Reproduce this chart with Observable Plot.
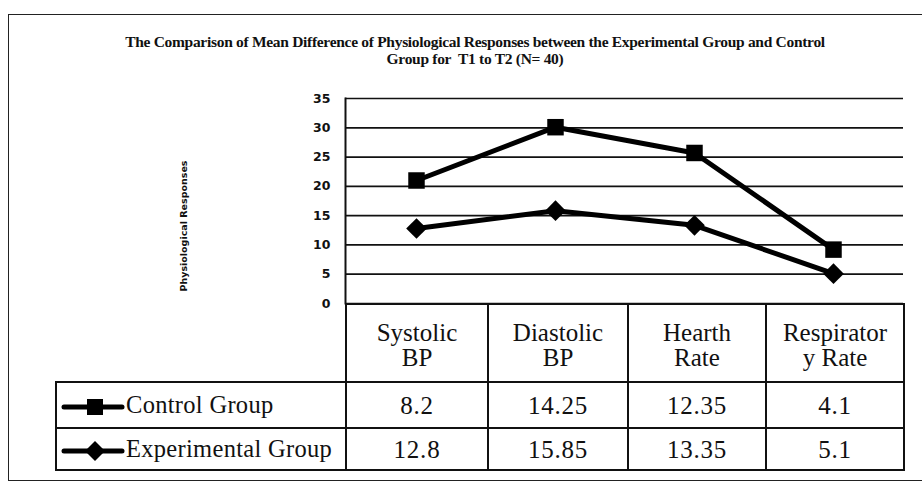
<!DOCTYPE html>
<html><head><meta charset="utf-8">
<script src="https://cdn.jsdelivr.net/npm/d3@7"></script>
<script src="https://cdn.jsdelivr.net/npm/@observablehq/plot@0.6"></script>
<style>
body{margin:0;background:#fff;}
#wrap{position:relative;width:922px;height:485px;overflow:hidden;font-family:"Liberation Serif","Times New Roman",serif;color:#111;}
#frame{position:absolute;left:8px;top:14px;width:940px;height:467px;border:1.5px solid #222;border-right:none;box-sizing:border-box;}
#title{position:absolute;left:0;width:950px;top:33px;text-align:center;font-weight:bold;font-size:15.5px;line-height:17px;letter-spacing:-0.3px;font-family:"Liberation Serif",serif;}
#chart{position:absolute;left:0;top:0;}
#tbl{position:absolute;left:55px;top:303px;border-collapse:collapse;table-layout:fixed;}
#tbl td{border:2px solid #111;text-align:center;padding:0;line-height:25px;font-family:"Liberation Serif","Times New Roman",serif;font-size:25px;color:#111;}
#tbl td.blank{border:none;}
#tbl td.val{letter-spacing:0.8px;}
#tbl td.leg{text-align:left;white-space:nowrap;letter-spacing:0.3px;font-size:24.5px;}
#tbl td.leg svg{vertical-align:middle;margin-right:1px;margin-left:4px;}
</style>
</head><body>
<div id="wrap">
  <div id="frame"></div>
  <div id="title">The Comparison of Mean Difference of Physiological Responses between the Experimental Group and Control<br>Group for&nbsp; T1 to T2 (N= 40)</div>
  <div id="chart"></div>
  <table id="tbl"></table>
</div>
<script>
const categories = ["Systolic BP", "Diastolic BP", "Hearth Rate", "Respiratory Rate"];
const headerLabels = [["Systolic", "BP"], ["Diastolic", "BP"], ["Hearth", "Rate"], ["Respirator", "y Rate"]];
const groups = ["Control Group", "Experimental Group"];
const controlValues = [8.2, 14.25, 12.35, 4.1];
const experimentalValues = [12.8, 15.85, 13.35, 5.1];
const yTicks = [0, 5, 10, 15, 20, 25, 30, 35];
const yTitle = "Physiological Responses";

// stacked line chart (Experimental at bottom, Control stacked on top)
const data = [
  ...experimentalValues.map((v, i) => ({cat: categories[i], group: "Experimental Group", value: v})),
  ...controlValues.map((v, i) => ({cat: categories[i], group: "Control Group", value: v}))
];

const chart = Plot.plot({
  width: 922, height: 485,
  marginLeft: 345, marginRight: 19, marginTop: 98, marginBottom: 182,
  style: {background: "transparent", overflow: "visible", color: "#111"},
  x: {type: "point", domain: categories, padding: 0.5, axis: null},
  y: {domain: [0, 35], ticks: yTicks},
  symbol: {domain: groups, range: ["square", "diamond2"]},
  marks: [
    Plot.ruleY(yTicks, {stroke: "#111", strokeWidth: 1.7}),
    Plot.frame({anchor: "left", stroke: "#111", strokeWidth: 2}),
    Plot.axisY({ticks: yTicks, tickSize: 0, tickPadding: 15, fontSize: 12.5, fontWeight: "bold", fontFamily: "DejaVu Sans", label: null}),
    Plot.text([yTitle], {frameAnchor: "left", textAnchor: "middle", dx: -162, dy: 25, rotate: -90, fontSize: 9.5, fontWeight: "bold", fontFamily: "DejaVu Sans", fill: "#111"}),
    Plot.lineY(data, Plot.stackY2({x: "cat", y: "value", z: "group", stroke: "#000", strokeWidth: 5})),
    Plot.dot(data, Plot.stackY2({x: "cat", y: "value", z: "group", symbol: "group", fill: "#000", r: 9.3}))
  ]
});
document.getElementById("chart").appendChild(chart);

// data table
const colWidths = [290, 142, 140, 138, 138];
const tbl = document.getElementById("tbl");
const cg = document.createElement("colgroup");
colWidths.forEach(w => { const c = document.createElement("col"); c.style.width = w + "px"; cg.appendChild(c); });
tbl.appendChild(cg);
const hr = tbl.insertRow(); hr.style.height = "78px";
const b = hr.insertCell(); b.className = "blank";
headerLabels.forEach(lines => { const c = hr.insertCell(); c.innerHTML = lines.join("<br>"); c.style.paddingTop = "4px"; });
function icon(sym) {
  const m = sym === "square"
    ? '<rect x="26" y="3" width="16" height="16" fill="#000"/>'
    : '<path d="M34 1 L44 11 L34 21 L24 11 Z" fill="#000"/>';
  return '<svg width="64" height="22" viewBox="0 0 64 22"><line x1="3" y1="11" x2="61" y2="11" stroke="#000" stroke-width="5" stroke-linecap="round"/>' + m + '</svg>';
}
[[groups[0], controlValues, "square", 46], [groups[1], experimentalValues, "diamond", 42]].forEach(([g, vals, sym, h]) => {
  const r = tbl.insertRow(); r.style.height = h + "px";
  const l = r.insertCell(); l.className = "leg"; l.innerHTML = icon(sym) + g;
  vals.forEach(v => { const c = r.insertCell(); c.className = "val"; c.textContent = String(v); });
});
</script>
</body></html>
